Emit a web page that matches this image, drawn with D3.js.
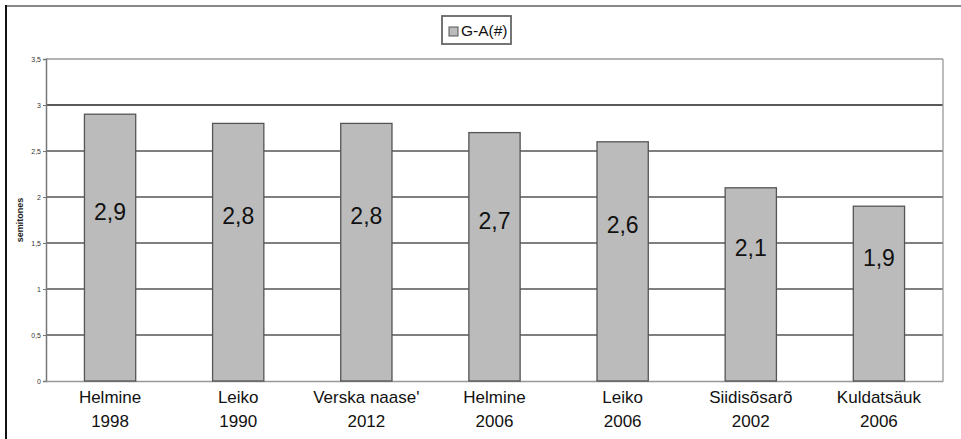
<!DOCTYPE html>
<html><head><meta charset="utf-8">
<script src="https://cdn.jsdelivr.net/npm/d3@7/dist/d3.min.js"></script>
<style>body{margin:0;background:#fff}svg{display:block}</style>
</head><body>
<svg id="c" width="961" height="439"></svg>
<script>
const categories = [["Helmine","1998"],["Leiko","1990"],["Verska naase'","2012"],["Helmine","2006"],["Leiko","2006"],["Siidisõsarõ","2002"],["Kuldatsäuk","2006"]];
const values = [2.9, 2.8, 2.8, 2.7, 2.6, 2.1, 1.9];
const valueLabels = ["2,9","2,8","2,8","2,7","2,6","2,1","1,9"];
const yTicks = [0, 0.5, 1, 1.5, 2, 2.5, 3, 3.5];
const yTickLabels = ["0","0,5","1","1,5","2","2,5","3","3,5"];
const seriesName = "G-A(#)";
const yTitle = "semitones";

const svg = d3.select("#c");
const font = "Liberation Sans, Arial, sans-serif";
const L = 46, R = 943, T = 59, B = 381;

// outer frame
svg.append("line").attr("x1",6).attr("x2",961).attr("y1",6).attr("y2",6).attr("stroke","#888").attr("stroke-width",2);
svg.append("line").attr("x1",6).attr("x2",6).attr("y1",5).attr("y2",439).attr("stroke","#111").attr("stroke-width",2);

const x = d3.scaleBand().domain(d3.range(categories.length)).range([L, R]).paddingInner(0.6).paddingOuter(0.3);
const y = d3.scaleLinear().domain([0, 3.5]).range([B, T]);

// gridlines
svg.append("g").selectAll("line").data(yTicks.filter(d=>d>0)).join("line")
  .attr("x1", L).attr("x2", R).attr("y1", d=>y(d)).attr("y2", d=>y(d))
  .attr("stroke", d=> d===3 ? "#222" : (d===3.5 ? "#999" : "#555"))
  .attr("stroke-width", d=> d===3 ? 1.6 : 1.3);

// right border of plot
svg.append("line").attr("x1",R).attr("x2",R).attr("y1",T).attr("y2",B).attr("stroke","#999").attr("stroke-width",1.3);

// y axis
const yAxis = d3.axisLeft(y).tickValues(yTicks).tickFormat((d,i)=>yTickLabels[i]).tickSize(3).tickPadding(2);
const ga = svg.append("g").attr("transform",`translate(${L},0)`).call(yAxis);
ga.select(".domain").attr("stroke","#777").attr("stroke-width",1.5);
ga.selectAll(".tick line").attr("stroke","#777");
ga.selectAll(".tick text").attr("font-family",font).attr("font-size",7).attr("fill","#333");

// x axis baseline
const xAxis = d3.axisBottom(x).tickSize(0).tickFormat("");
const gx = svg.append("g").attr("transform",`translate(0,${B})`).call(xAxis);
gx.select(".domain").attr("stroke","#999").attr("stroke-width",1.5);

// bars
svg.append("g").selectAll("rect").data(values).join("rect")
  .attr("x",(d,i)=>x(i)).attr("width",x.bandwidth())
  .attr("y",d=>y(d)).attr("height",d=>B-y(d))
  .attr("fill","#bbbbbb").attr("stroke","#555").attr("stroke-width",1.3);

// value labels
svg.append("g").selectAll("text").data(values).join("text")
  .attr("x",(d,i)=>x(i)+x.bandwidth()/2)
  .attr("y",d=>y(d/2)-28)
  .attr("text-anchor","middle").attr("font-family",font).attr("font-size",23).attr("fill","#111")
  .text((d,i)=>valueLabels[i]);

// category labels
const cl = svg.append("g").selectAll("text").data(categories).join("text")
  .attr("x",(d,i)=>x(i)+x.bandwidth()/2)
  .attr("text-anchor","middle").attr("font-family",font).attr("font-size",17).attr("fill","#111");
cl.append("tspan").attr("x",(d,i)=>x(i)+x.bandwidth()/2).attr("y",403).text(d=>d[0]);
cl.append("tspan").attr("x",(d,i)=>x(i)+x.bandwidth()/2).attr("y",427).text(d=>d[1]);

// y title
svg.append("text").attr("transform","translate(23,220) rotate(-90)")
  .attr("text-anchor","middle").attr("font-family",font).attr("font-size",9).attr("font-weight","bold").attr("fill","#222")
  .text(yTitle);

// legend
const lg = svg.append("g");
lg.append("rect").attr("x",442).attr("y",16).attr("width",69).attr("height",28).attr("fill","#fff").attr("stroke","#666").attr("stroke-width",1.8);
lg.append("rect").attr("x",449).attr("y",27).attr("width",9).attr("height",9).attr("fill","#bbbbbb").attr("stroke","#555").attr("stroke-width",1);
lg.append("text").attr("x",461).attr("y",36).attr("font-family",font).attr("font-size",15.5).attr("fill","#111").text(seriesName);
</script>
</body></html>
